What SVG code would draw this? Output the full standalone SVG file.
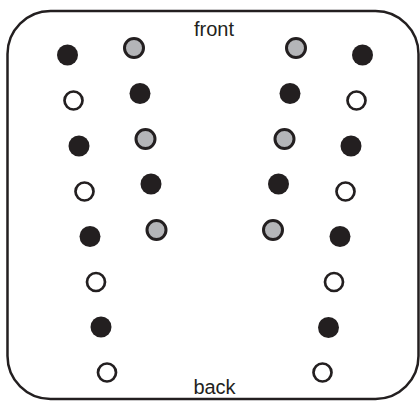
<svg xmlns="http://www.w3.org/2000/svg" width="420" height="402" viewBox="0 0 420 402">
<style>
.frame{fill:none;stroke:#231f20;stroke-width:2.5}
.f{fill:#231f20}
.o{fill:#fff;stroke:#231f20;stroke-width:2.7}
.g{fill:#b4b5b8;stroke:#231f20;stroke-width:3}
text{font-family:"Liberation Sans",Arial,sans-serif;font-size:20px;fill:#231f20;text-anchor:middle}
</style>
<rect width="420" height="402" fill="#fff"/>
<rect class="frame" x="7.5" y="11" width="411" height="388" rx="43" ry="43"/>
<text x="214" y="36">front</text>
<text x="214.5" y="394">back</text>
<g id="left-outer">
<circle class="f" cx="67.5" cy="55" r="10.5"/>
<circle class="o" cx="73.5" cy="100.5" r="9"/>
<circle class="f" cx="79" cy="146" r="10.5"/>
<circle class="o" cx="84.5" cy="191.5" r="9"/>
<circle class="f" cx="90" cy="236.5" r="10.5"/>
<circle class="o" cx="96" cy="282" r="9"/>
<circle class="f" cx="101" cy="327" r="10.5"/>
<circle class="o" cx="107" cy="372.5" r="9"/>
</g>
<g id="left-inner">
<circle class="g" cx="134" cy="48" r="9.5"/>
<circle class="f" cx="140" cy="93.5" r="10.5"/>
<circle class="g" cx="145.5" cy="139" r="9.5"/>
<circle class="f" cx="151" cy="184" r="10.5"/>
<circle class="g" cx="156.5" cy="230" r="9.5"/>
</g>
<g id="right-inner">
<circle class="g" cx="296" cy="48" r="9.5"/>
<circle class="f" cx="290" cy="93.5" r="10.5"/>
<circle class="g" cx="284.5" cy="139" r="9.5"/>
<circle class="f" cx="278.5" cy="184" r="10.5"/>
<circle class="g" cx="273" cy="230" r="9.5"/>
</g>
<g id="right-outer">
<circle class="f" cx="362.5" cy="55" r="10.5"/>
<circle class="o" cx="356.5" cy="100.5" r="9"/>
<circle class="f" cx="351" cy="146" r="10.5"/>
<circle class="o" cx="345.5" cy="191.5" r="9"/>
<circle class="f" cx="340" cy="236.5" r="10.5"/>
<circle class="o" cx="334" cy="282" r="9"/>
<circle class="f" cx="328.5" cy="327.5" r="10.5"/>
<circle class="o" cx="322.5" cy="372.5" r="9"/>
</g>
</svg>
